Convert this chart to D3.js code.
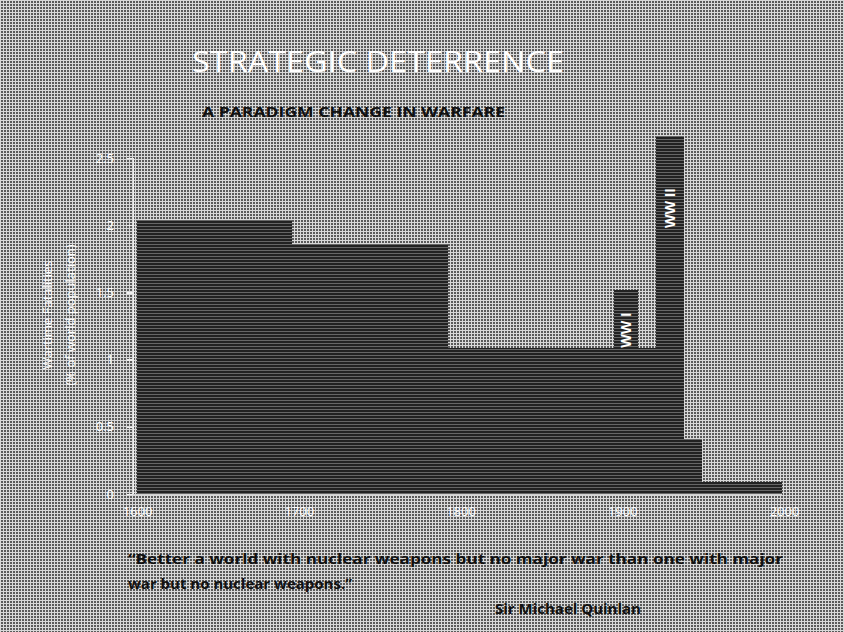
<!DOCTYPE html>
<html lang="en">
<head>
<meta charset="UTF-8">
<title>Strategic Deterrence</title>
<script src="https://d3js.org/d3.v7.min.js"></script>
<style>
    body, html {
        margin: 0;
        padding: 0;
        background: #9a9a9a;
        overflow: hidden;
    }
    svg text {
        font-family: "Open Sans", "DejaVu Sans", sans-serif;
    }
    .tick-label {
        fill: #ffffff;
        font-size: 13px;
    }
</style>
</head>
<body>
<div id="chart"></div>
<script>
// wartime fatalities as % of world population, per period (years)
const periodStart = [1600, 1696, 1792, 1938, 1949];
const periodEnd   = [1696, 1792, 1938, 1949, 1999];
const periodValue = [2.04, 1.86, 1.09, 0.41, 0.09];

// the two world wars drawn on top
const warNames = ["WW I", "WW II"];
const warStart = [1895, 1921];
const warEnd   = [1910, 1938];
const warValue = [1.52, 2.66];

const xTicks = [1600, 1700, 1800, 1900, 2000];
const yTicks = [0, 0.5, 1, 1.5, 2, 2.5];
const yTickLabels = ["0", "0.5", "1", "1.5", "2", "2.5"];

const quoteLines = [
    "\u201CBetter a world with nuclear weapons but no major war than one with major",
    "war but no nuclear weapons.\u201D"
];

const width = 844, height = 632;

const svg = d3.select("#chart").append("svg")
    .attr("width", width)
    .attr("height", height)
    .attr("shape-rendering", "crispEdges");

const defs = svg.append("defs");

// dithered grey background
const bg = defs.append("pattern")
    .attr("id", "bgfill")
    .attr("width", 3).attr("height", 3)
    .attr("patternUnits", "userSpaceOnUse");
bg.append("rect").attr("width", 3).attr("height", 3).attr("fill", "#5a5a5a");
bg.append("rect").attr("width", 3).attr("height", 1).attr("fill", "#d8d8d8");
bg.append("rect").attr("width", 1).attr("height", 3).attr("fill", "#d8d8d8");

// streaky dark fill for the bars
const bf = defs.append("pattern")
    .attr("id", "barfill")
    .attr("width", 4).attr("height", 3)
    .attr("patternUnits", "userSpaceOnUse");
bf.append("rect").attr("width", 4).attr("height", 3).attr("fill", "#222222");
bf.append("rect").attr("y", 1).attr("width", 4).attr("height", 1).attr("fill", "#666666");

svg.append("rect")
    .attr("width", width)
    .attr("height", height)
    .attr("fill", "url(#bgfill)");

const x = d3.scaleLinear().domain([1600, 2000]).range([137, 784]);
const y = d3.scaleLinear().domain([0, 2.5]).range([494, 158]);
const rx = v => Math.round(x(v));
const ry = v => Math.round(y(v));

// titles
svg.append("text")
    .attr("x", 192).attr("y", 72)
    .attr("textLength", 372)
    .attr("lengthAdjust", "spacingAndGlyphs")
    .attr("fill", "#ffffff")
    .style("font-size", "30px")
    .text("STRATEGIC DETERRENCE");

svg.append("text")
    .attr("x", 202).attr("y", 117)
    .attr("textLength", 303)
    .attr("lengthAdjust", "spacingAndGlyphs")
    .attr("fill", "#111111")
    .style("font-size", "14px")
    .style("font-weight", "bold")
    .text("A PARADIGM CHANGE IN WARFARE");

// bars
const periods = periodStart.map((s, i) => ({ start: s, end: periodEnd[i], value: periodValue[i] }));
const wars = warStart.map((s, i) => ({ name: warNames[i], start: s, end: warEnd[i], value: warValue[i] }));

svg.selectAll("rect.period")
    .data(periods)
    .enter().append("rect")
    .attr("class", "period")
    .attr("x", d => rx(d.start))
    .attr("y", d => ry(d.value))
    .attr("width", d => rx(d.end) - rx(d.start))
    .attr("height", d => ry(0) - ry(d.value))
    .attr("fill", "url(#barfill)");

svg.selectAll("rect.war")
    .data(wars)
    .enter().append("rect")
    .attr("class", "war")
    .attr("x", d => rx(d.start))
    .attr("y", d => ry(d.value))
    .attr("width", d => rx(d.end) - rx(d.start))
    .attr("height", d => ry(0) - ry(d.value))
    .attr("fill", "url(#barfill)");

// war labels, rotated inside the bars
svg.selectAll("text.war-label")
    .data(wars)
    .enter().append("text")
    .attr("class", "war-label")
    .attr("transform", (d, i) => {
        const cx = (x(d.start) + x(d.end)) / 2 + 5;
        const cy = i === 0 ? 330 : 208;
        return `translate(${cx},${cy}) rotate(-90)`;
    })
    .attr("text-anchor", "middle")
    .attr("fill", "#ffffff")
    .attr("shape-rendering", "auto")
    .style("font-size", "14px")
    .style("font-weight", "bold")
    .text(d => d.name);

// y axis
const yAxis = svg.append("g")
    .attr("transform", "translate(133,0)")
    .call(d3.axisLeft(y).tickValues(yTicks).tickSize(6).tickFormat((d, i) => yTickLabels[i]));
yAxis.select(".domain").attr("stroke", "#eeeeee").attr("stroke-width", 1.5);
yAxis.selectAll(".tick line").attr("stroke", "#eeeeee").attr("stroke-width", 1.5);
yAxis.selectAll(".tick text")
    .attr("class", "tick-label")
    .attr("x", -19)
    .style("font-size", "13px")
    .attr("fill", "#ffffff");

// x axis (labels only, with a faint base line)
const xAxis = svg.append("g")
    .attr("transform", "translate(0,494)")
    .call(d3.axisBottom(x).tickValues(xTicks).tickSize(0).tickFormat(d3.format("d")));
xAxis.select(".domain").attr("stroke", "#d0d0d0").attr("stroke-width", 1).attr("d", `M${x(1600) - 4},0H${x(2000) - 2}`);
xAxis.selectAll(".tick text")
    .attr("class", "tick-label")
    .attr("y", 13)
    .style("font-size", "13px")
    .attr("fill", "#ffffff");

// y axis title
const yTitle = svg.append("text")
    .attr("transform", "translate(52,315) rotate(-90)")
    .attr("text-anchor", "middle")
    .attr("fill", "#ffffff")
    .style("font-size", "13px");
yTitle.append("tspan").attr("x", 0).attr("dy", 0).text("Wartime Fatalities");
yTitle.append("tspan").attr("x", 0).attr("dy", 23).text("(% of world population)");

// quote
svg.selectAll("text.quote")
    .data(quoteLines)
    .enter().append("text")
    .attr("class", "quote")
    .attr("x", 128)
    .attr("y", (d, i) => 564 + i * 25)
    .attr("textLength", (d, i) => i === 0 ? 655 : null)
    .attr("lengthAdjust", "spacingAndGlyphs")
    .attr("fill", "#111111")
    .style("font-size", "15px")
    .style("font-weight", "bold")
    .text(d => d);

svg.append("text")
    .attr("x", 495).attr("y", 614)
    .attr("fill", "#111111")
    .style("font-size", "15px")
    .style("font-weight", "bold")
    .text("Sir Michael Quinlan");
</script>
</body>
</html>
